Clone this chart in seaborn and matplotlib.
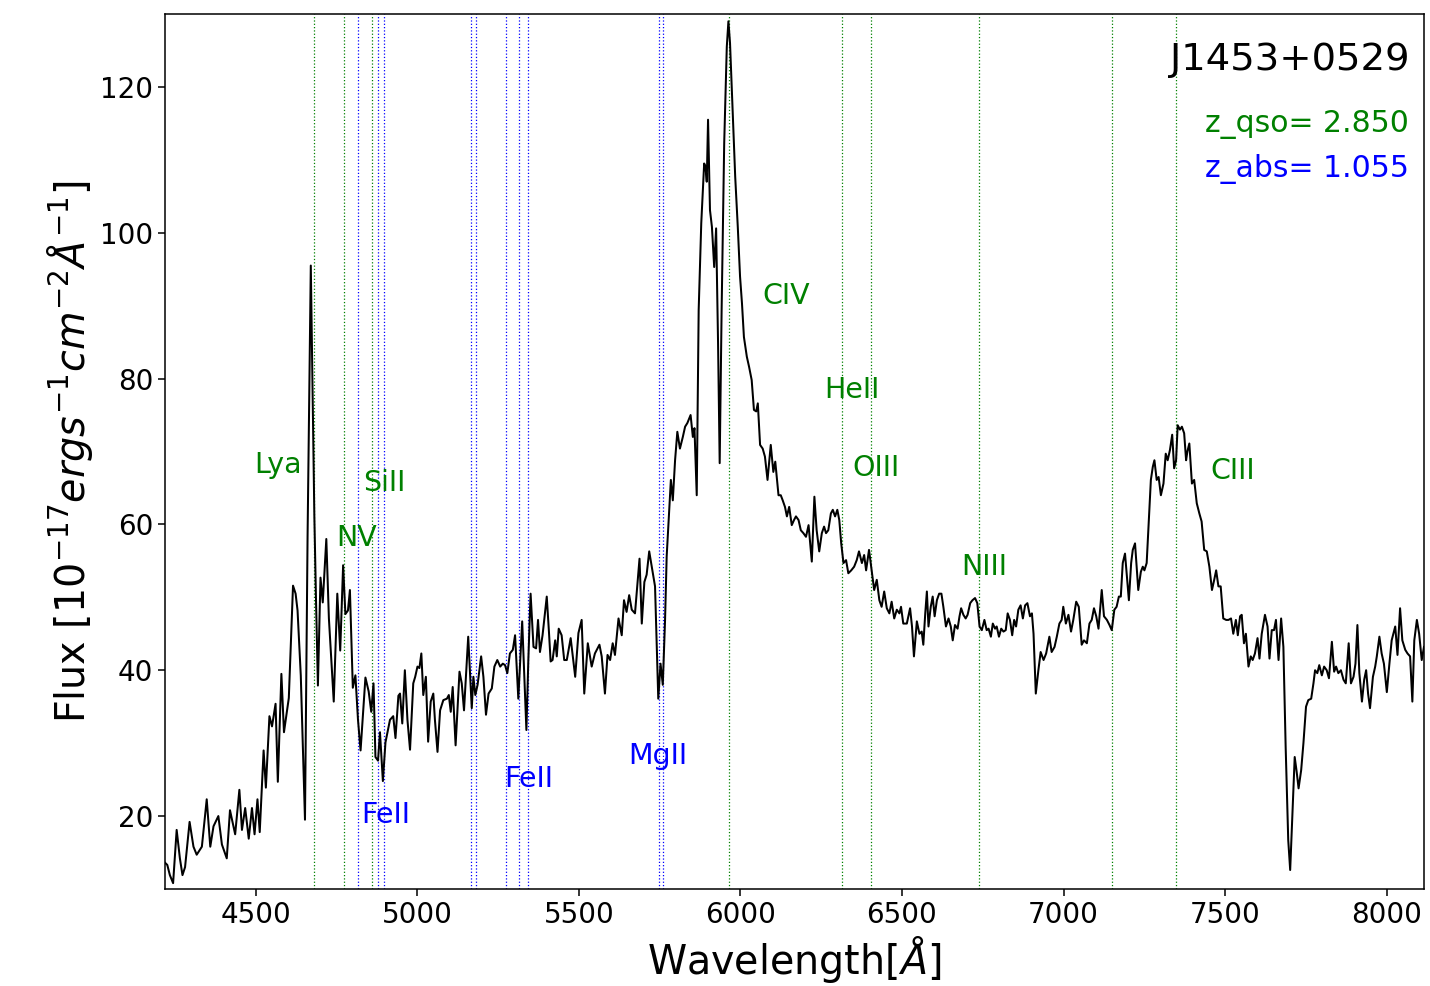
import numpy as np
import pandas as pd
import matplotlib
matplotlib.use("Agg")
import matplotlib.pyplot as plt
import seaborn as sns

# ---------------- data ----------------
wave = [
    4220, 4227, 4235, 4245, 4256, 4266, 4274, 4282, 4296, 4308, 4318, 4334, 4349, 4360, 4370, 4385,
    4396, 4411, 4421, 4437, 4450, 4458, 4468, 4479, 4489, 4497, 4506, 4513, 4525, 4532, 4543, 4551,
    4562, 4569, 4580, 4588, 4603, 4616, 4624, 4630, 4640, 4653, 4661, 4671, 4682, 4687, 4693, 4701,
    4708, 4719, 4727, 4742, 4753, 4762, 4771, 4778, 4786, 4792, 4801, 4809, 4817, 4825, 4840, 4850,
    4858, 4865, 4871, 4879, 4885, 4894, 4902, 4916, 4926, 4933, 4942,
    4947, 4954, 4962, 4970, 4978, 4988, 4994, 5001, 5007, 5013, 5019, 5027, 5034, 5042, 5050, 5055,
    5063, 5071, 5081, 5092, 5098, 5104, 5110, 5119, 5131, 5138, 5145, 5158, 5169, 5174, 5180, 5187,
    5198, 5205, 5213, 5221, 5231, 5239, 5248, 5257, 5265, 5272, 5279, 5287, 5296, 5303, 5313, 5325,
    5331, 5338, 5344, 5351, 5360, 5368, 5374, 5380, 5388, 5401, 5408, 5413, 5419, 5427, 5432, 5438,
    5447, 5455, 5463, 5475, 5489, 5499, 5509, 5517, 5528, 5540, 5550, 5564, 5571, 5581, 5589, 5597,
    5605, 5612, 5623, 5633, 5640, 5648, 5656, 5664, 5674, 5688, 5695, 5703, 5710, 5718, 5726, 5736,
    5746, 5753, 5760, 5767, 5772,
    5785, 5791, 5798, 5805, 5813, 5822, 5829, 5836, 5846, 5853, 5858, 5865, 5871, 5879, 5888, 5892,
    5896, 5900, 5906, 5912, 5919, 5925, 5931, 5936, 5942, 5950, 5958, 5963, 5968, 5976, 5984, 5992,
    5999, 6005, 6011, 6020, 6027,
    6035, 6042, 6049, 6054, 6061, 6069, 6076, 6084, 6094, 6102, 6108, 6118, 6125, 6131, 6138, 6144,
    6151, 6159, 6166, 6172, 6180, 6187, 6195, 6203, 6211, 6221, 6229, 6236, 6244, 6252, 6259, 6265,
    6272, 6280, 6286, 6293, 6300, 6306, 6312, 6319, 6327, 6334, 6343, 6352, 6360, 6367, 6376, 6383,
    6389, 6398, 6406, 6414, 6422, 6430, 6437, 6445, 6453, 6461, 6468, 6476, 6484, 6492, 6497, 6504,
    6515, 6525, 6531, 6537, 6546, 6554, 6561, 6566, 6572, 6577, 6582, 6589, 6595, 6601, 6608, 6615,
    6622, 6628, 6636, 6644, 6651, 6657, 6664, 6672, 6678, 6683, 6690, 6697, 6703, 6711, 6718, 6726,
    6733, 6740, 6747, 6755, 6762, 6768, 6775, 6781, 6788, 6793, 6800, 6807, 6814, 6821, 6827, 6834,
    6841, 6847, 6853, 6860, 6867, 6874, 6881, 6888, 6896, 6902, 6907,
    6914, 6922, 6929, 6938, 6946, 6956, 6963, 6972, 6979, 6987, 6994, 6999, 7007, 7015, 7023, 7030,
    7039, 7047, 7056, 7063, 7072, 7080, 7087, 7094, 7101, 7108, 7118, 7125, 7134, 7142, 7149, 7157,
    7164, 7171, 7177, 7183, 7190, 7195, 7202, 7209, 7214, 7221, 7231, 7239, 7245, 7250, 7257, 7262,
    7270, 7276, 7281, 7288, 7294, 7301, 7309, 7316, 7322, 7329, 7336, 7342, 7348, 7353, 7360, 7366,
    7373, 7379, 7383, 7389, 7397, 7404, 7412, 7420, 7427, 7435, 7443, 7451, 7459, 7466, 7472, 7479,
    7486, 7494, 7503, 7510, 7518, 7525, 7533, 7539, 7546, 7551, 7558, 7564, 7572, 7579, 7585, 7592,
    7600, 7606, 7613, 7623, 7631, 7637, 7644, 7651, 7657, 7665, 7673, 7680, 7687, 7695, 7701, 7708,
    7715, 7721, 7727, 7735, 7742, 7750, 7757, 7766, 7773, 7778, 7785, 7791, 7799, 7806, 7814, 7821,
    7830, 7837, 7843, 7850, 7858, 7866, 7873, 7882, 7889, 7897, 7903, 7909, 7915, 7923, 7930, 7936,
    7942, 7948, 7957, 7964, 7969, 7977, 7984, 7991, 8000, 8008, 8015, 8026, 8033, 8041, 8048, 8057,
    8064, 8072, 8079, 8085, 8093, 8100, 8108, 8115,
]
flux = [
    13.6, 13.3, 11.9, 10.8, 18.1, 14.2, 11.9, 13.0, 19.2, 15.8, 14.7, 15.8, 22.3, 15.8, 18.6, 20.0,
    16.1, 14.2, 20.8, 17.5, 23.6, 18.1, 21.1, 16.9, 21.1, 17.5, 22.3, 17.8, 29.0, 23.9, 33.7, 32.3,
    35.4, 24.7, 39.5, 31.5, 36.2, 51.6, 50.5, 48.2, 39.3, 19.5, 58.3, 95.5, 61.1, 49.9, 37.9, 52.7,
    49.3, 58.0, 47.1, 35.7, 50.5, 42.7, 54.4, 47.7, 48.2, 51.0, 37.6, 39.3, 33.2, 29.0, 39.0, 37.1,
    34.3, 38.2, 28.1, 27.6, 31.5, 24.8, 30.1, 33.2, 33.7, 30.7, 36.5,
    36.8, 32.7, 40.0, 33.2, 29.1, 38.2, 39.1, 40.5, 40.3, 42.3, 36.6, 39.1, 30.2, 35.7, 36.8, 33.2,
    28.8, 34.5, 35.9, 36.1, 36.6, 34.3, 37.7, 29.7, 39.8, 38.2, 34.5, 44.6, 34.8, 39.1, 36.6, 38.0,
    41.9, 39.1, 33.9, 36.8, 37.5, 40.5, 41.4, 40.5, 40.9, 40.7, 39.6, 42.3, 42.8, 44.8, 36.1, 46.7,
    40.0, 31.8, 41.4, 50.5, 43.2, 43.0, 46.9, 42.5, 44.8, 50.1, 45.1, 41.2, 41.4, 44.1, 41.9, 45.7,
    44.8, 41.4, 41.4, 44.4, 39.1, 45.1, 46.9, 36.8, 43.7, 40.5, 42.3, 43.5, 41.9, 36.8, 42.1, 41.4,
    43.7, 42.1, 47.1, 44.8, 49.6, 48.0, 50.3, 48.3, 47.8, 55.3, 46.4, 52.1, 53.1, 56.3, 54.2, 51.5,
    36.1, 40.9, 38.0, 46.9, 55.6,
    66.1, 63.3, 68.8, 72.7, 70.4, 72.0, 73.4, 73.9, 75.0, 72.0, 73.2, 64.0, 89.4, 101.3, 109.5, 109.1,
    107.0, 115.5, 103.1, 100.8, 95.3, 100.6, 84.8, 68.4, 89.4, 112.3, 125.5, 129.0, 126.0, 116.8, 107.7, 100.8,
    94.0, 90.3, 85.7, 83.0, 81.6,
    79.8, 75.7, 75.5, 76.6, 70.9, 70.4, 69.3, 66.1, 70.9, 67.2, 68.6, 64.0, 64.0, 63.3, 62.4, 61.1,
    62.4, 59.9, 60.6, 61.1, 60.6, 59.2, 58.8, 58.3, 59.9, 54.9, 63.8, 59.2, 56.3, 58.8, 59.7, 58.8,
    59.2, 61.5, 62.0, 61.1, 62.0, 60.6, 57.4, 54.7, 55.1, 53.3, 53.7, 54.2, 55.1, 56.3, 54.7, 55.8,
    53.7, 56.5, 53.7, 51.0, 52.4, 49.6, 48.7, 50.8, 48.5, 47.8, 49.4, 47.1, 48.3, 47.8, 48.7, 46.4,
    46.4, 48.5, 46.0, 41.9, 46.7, 45.0, 45.3, 43.5, 47.8, 50.8, 46.0, 48.7, 50.1, 47.4, 49.6, 50.5,
    50.5, 48.7, 46.0, 47.1, 46.0, 44.1, 46.2, 45.7, 47.4, 48.5, 47.6, 47.1, 47.6, 49.2, 49.6, 49.9,
    49.2, 46.0, 45.5, 46.9, 45.5, 45.7, 44.6, 46.4, 45.7, 46.0, 44.6, 45.7, 45.3, 45.5, 47.8, 46.9,
    44.8, 46.9, 46.0, 48.3, 48.9, 47.1, 48.9, 49.2, 47.4, 47.8, 45.0,
    36.8, 40.0, 42.5, 41.4, 42.3, 44.6, 42.5, 43.2, 44.6, 46.4, 46.9, 48.7, 46.4, 47.6, 45.3, 46.9,
    49.4, 48.7, 43.5, 44.1, 43.7, 46.4, 46.9, 48.5, 47.4, 45.7, 51.0, 47.4, 46.9, 46.2, 45.5, 48.3,
    48.7, 50.1, 50.1, 54.7, 56.0, 53.3, 49.6, 54.7, 56.5, 57.4, 51.0, 53.5, 54.2, 53.7, 54.7, 59.2,
    66.1, 67.9, 68.8, 66.1, 66.5, 64.0, 65.6, 69.7, 68.8, 70.2, 72.3, 67.7, 68.8, 73.6, 73.0, 73.4,
    72.5, 68.8, 70.0, 71.1, 65.6, 66.1, 62.9, 61.5, 60.4, 56.5, 56.3, 54.2, 51.0, 52.4, 53.7, 51.5,
    51.5, 47.1, 46.9, 46.9, 47.1, 45.0, 46.9, 44.8, 47.4, 47.6, 43.7, 45.0, 40.5, 41.9, 41.4, 42.3,
    44.4, 41.6, 45.0, 47.6, 46.0, 41.6, 45.5, 45.5, 46.9, 41.4, 47.1, 43.2, 29.5, 16.7, 12.6, 20.4,
    28.1, 26.1, 23.8, 26.3, 30.0, 35.0, 35.9, 36.1, 38.2, 40.0, 39.6, 40.7, 39.3, 40.5, 40.0, 38.9,
    43.9, 39.8, 40.5, 39.6, 40.0, 38.7, 38.2, 43.7, 38.2, 39.1, 40.9, 46.2, 39.6, 35.7, 38.7, 40.0,
    36.8, 34.8, 39.1, 40.5, 41.9, 44.6, 42.3, 40.9, 37.0, 40.9, 44.1, 46.0, 42.1, 48.5, 44.1, 42.8,
    42.3, 41.9, 35.7, 44.1, 46.9, 45.0, 41.4, 43.2,
]

# emission lines (observed wavelength, QSO frame) and absorber lines
qso_lines = [4680, 4774, 4860, 5964, 6315, 6404, 6738, 7151, 7349]
abs_lines = [4817, 4880, 4896, 5167, 5182, 5274, 5315, 5344, 5747, 5762]

qso_labels = ["Lya", "NV", "SiII", "CIV", "HeII", "OIII", "NIII", "CIII"]
qso_label_x = [4496, 4749, 4834, 6068, 6259, 6345, 6683, 7453]
qso_label_y = [67.0, 57.0, 64.6, 90.2, 77.3, 66.7, 53.0, 66.2]

abs_labels = ["FeII", "FeII", "MgII"]
abs_label_x = [4828, 5270, 5654]
abs_label_y = [19.0, 24.0, 27.1]

object_name = "J1453+0529"
z_qso_text = "z_qso= 2.850"
z_abs_text = "z_abs= 1.055"

# ---------------- plot ----------------
df = pd.DataFrame({"wave": wave, "flux": flux})

fig = plt.figure(figsize=(14.3, 9.86), dpi=100)
ax = fig.add_axes([0.1154, 0.0984, 0.8804, 0.8874])

for w in qso_lines:
    ax.axvline(w, color="green", ls=":", lw=0.9)
for w in abs_lines:
    ax.axvline(w, color="blue", ls=":", lw=0.9)

sns.lineplot(data=df, x="wave", y="flux", color="black", linewidth=1.45,
             sort=False, estimator=None, ax=ax)

for t, x, y in zip(qso_labels, qso_label_x, qso_label_y):
    ax.text(x, y, t, color="green", fontsize=20.5)
for t, x, y in zip(abs_labels, abs_label_x, abs_label_y):
    ax.text(x, y, t, color="blue", fontsize=20.5)

ax.text(0.9883, 0.936, object_name, transform=ax.transAxes, ha="right",
        va="baseline", fontsize=27.7, color="black")
ax.text(0.9883, 0.8655, z_qso_text, transform=ax.transAxes, ha="right",
        va="baseline", fontsize=21.5, color="green")
ax.text(0.9883, 0.814, z_abs_text, transform=ax.transAxes, ha="right",
        va="baseline", fontsize=21.5, color="blue")

ax.set_xlim(4220, 8115)
ax.set_ylim(10, 130)
ax.set_xticks([4500, 5000, 5500, 6000, 6500, 7000, 7500, 8000])
ax.set_yticks([20, 40, 60, 80, 100, 120])
ax.tick_params(labelsize=20, length=5, width=1.1)
for s in ax.spines.values():
    s.set_linewidth(1.1)
    s.set_color("black")

ax.set_xlabel(r"Wavelength[$\AA$]", fontsize=28.5)
ax.set_ylabel(r"Flux [$10^{-17} ergs^{-1}cm^{-2}\AA^{-1}$]", fontsize=28.5)

fig.savefig("out.png", dpi=100)
